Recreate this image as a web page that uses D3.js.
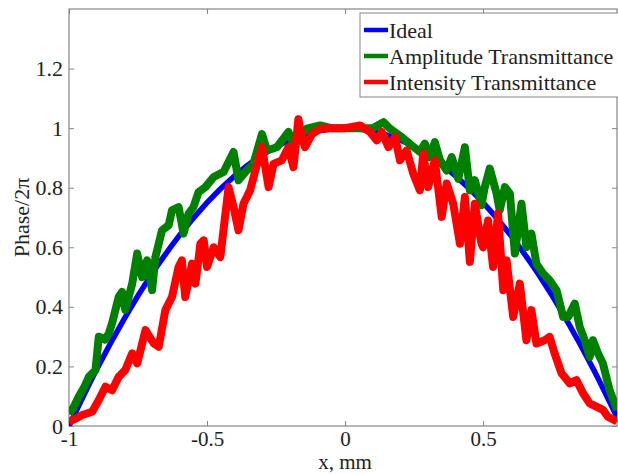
<!DOCTYPE html>
<meta charset="utf-8">
<head>
  <title>phase profile</title>
</head>
<style>
body { margin: 0; background: #fff; }
text { font-family: "Liberation Serif", "Times New Roman", serif; fill: #222; }
</style>
<body>
<svg id="chart" width="618" height="474"></svg>
<script src="https://cdnjs.cloudflare.com/ajax/libs/d3/7.8.5/d3.min.js"></script>
<script>

// values
var idealX = [-1, -0.9, -0.8, -0.7, -0.6, -0.5, -0.4, -0.3, -0.2, -0.1, 0, 0.1, 0.2, 0.3, 0.4, 0.5, 0.6, 0.7, 0.8, 0.9, 0.985];
var idealY = [0, 0.19, 0.36, 0.51, 0.64, 0.75, 0.84, 0.91, 0.96, 0.99, 1.0, 0.99, 0.96, 0.91, 0.84, 0.75, 0.64, 0.51, 0.36, 0.19, 0.03];

var ampX = [-1, -0.985, -0.965, -0.945, -0.928, -0.904, -0.892, -0.87, -0.856, -0.844, -0.82, -0.808, -0.796, -0.771, -0.753, -0.735, -0.717, -0.699, -0.687, -0.663, -0.639, -0.627, -0.603, -0.585, -0.567, -0.549, -0.531, -0.506, -0.476, -0.44, -0.404, -0.386, -0.356, -0.332, -0.301, -0.283, -0.247, -0.205, -0.187, -0.139, -0.09, -0.05, 0, 0.05, 0.1, 0.139, 0.163, 0.205, 0.241, 0.271, 0.289, 0.307, 0.325, 0.344, 0.368, 0.386, 0.41, 0.434, 0.452, 0.47, 0.494, 0.506, 0.524, 0.549, 0.56, 0.579, 0.597, 0.615, 0.639, 0.657, 0.675, 0.693, 0.717, 0.741, 0.766, 0.79, 0.808, 0.832, 0.85, 0.868, 0.886, 0.898, 0.916, 0.934, 0.958, 0.976, 0.985];
var ampY = [0.04, 0.06, 0.098, 0.13, 0.165, 0.188, 0.3, 0.29, 0.31, 0.345, 0.433, 0.45, 0.39, 0.478, 0.579, 0.5, 0.556, 0.456, 0.567, 0.657, 0.674, 0.724, 0.735, 0.646, 0.713, 0.735, 0.785, 0.802, 0.836, 0.853, 0.92, 0.825, 0.858, 0.88, 0.98, 0.925, 0.936, 0.987, 0.948, 0.998, 1.009, 1.0, 1.0, 1.0, 1.0, 1.02, 0.998, 0.97, 0.942, 0.92, 0.948, 0.903, 0.953, 0.892, 0.858, 0.903, 0.83, 0.936, 0.791, 0.825, 0.741, 0.802, 0.864, 0.78, 0.724, 0.802, 0.78, 0.579, 0.746, 0.6, 0.646, 0.545, 0.512, 0.489, 0.456, 0.366, 0.366, 0.411, 0.333, 0.288, 0.232, 0.288, 0.244, 0.21, 0.121, 0.076, 0.054];

var intX = [-1, -0.975, -0.952, -0.916, -0.892, -0.868, -0.844, -0.82, -0.796, -0.771, -0.753, -0.723, -0.693, -0.675, -0.651, -0.627, -0.603, -0.591, -0.579, -0.554, -0.542, -0.524, -0.512, -0.5, -0.476, -0.452, -0.422, -0.404, -0.386, -0.368, -0.344, -0.325, -0.301, -0.277, -0.259, -0.229, -0.205, -0.187, -0.169, -0.157, -0.145, -0.12, -0.09, -0.05, 0, 0.054, 0.09, 0.115, 0.133, 0.157, 0.181, 0.199, 0.223, 0.247, 0.271, 0.283, 0.301, 0.325, 0.35, 0.368, 0.392, 0.416, 0.434, 0.452, 0.47, 0.494, 0.5, 0.518, 0.536, 0.554, 0.573, 0.585, 0.609, 0.633, 0.657, 0.675, 0.693, 0.723, 0.741, 0.759, 0.784, 0.814, 0.838, 0.862, 0.886, 0.91, 0.934, 0.952, 0.985];
var intY = [0.015, 0.025, 0.037, 0.048, 0.087, 0.132, 0.12, 0.165, 0.188, 0.244, 0.21, 0.322, 0.277, 0.266, 0.389, 0.433, 0.534, 0.556, 0.433, 0.545, 0.478, 0.612, 0.623, 0.534, 0.6, 0.567, 0.802, 0.735, 0.657, 0.746, 0.791, 0.858, 0.936, 0.802, 0.88, 0.892, 0.936, 0.869, 1.03, 0.97, 0.936, 0.98, 0.998, 1.0, 1.0, 1.009, 0.987, 0.959, 0.987, 0.936, 0.97, 0.892, 0.925, 0.847, 0.791, 0.914, 0.802, 0.892, 0.702, 0.814, 0.746, 0.612, 0.769, 0.551, 0.746, 0.612, 0.6, 0.69, 0.534, 0.713, 0.456, 0.556, 0.366, 0.478, 0.288, 0.389, 0.277, 0.288, 0.299, 0.244, 0.177, 0.143, 0.154, 0.11, 0.076, 0.065, 0.054, 0.031, 0.015];

var xTicks = [-1, -0.5, 0, 0.5];
var xTickLabels = ["-1", "-0.5", "0", "0.5"];
var yTicks = [0, 0.2, 0.4, 0.6, 0.8, 1, 1.2];
var yTickLabels = ["0", "0.2", "0.4", "0.6", "0.8", "1", "1.2"];
var seriesNames = ["Ideal", "Amplitude Transmittance", "Intensity Transmittance"];
var seriesColors = ["#0000ff", "#008000", "#ff0000"];

var plotL = 69, plotR = 617, plotT = 9, plotB = 426;
var axisColor = "#858585";

var svg = d3.select("#chart");

var x = d3.scaleLinear().domain([-1, 0.985]).range([plotL, plotR]);
var y = d3.scaleLinear().domain([0, 1.4]).range([plotB, plotT]);

svg.append("clipPath").attr("id", "clip")
  .append("rect").attr("x", plotL).attr("y", plotT)
  .attr("width", plotR - plotL).attr("height", plotB - plotT);

// plot frame
svg.append("rect")
  .attr("x", plotL).attr("y", plotT)
  .attr("width", plotR - plotL).attr("height", plotB - plotT)
  .style("fill", "none").style("stroke", axisColor).style("stroke-width", 1.2);

// axes, ticks pointing inwards like matlab
var xAxis = d3.axisBottom(x).tickValues(xTicks).tickSizeInner(-5).tickSizeOuter(0)
  .tickPadding(5).tickFormat(function(d, i) { return xTickLabels[i]; });
var gx = svg.append("g").attr("transform", "translate(0," + plotB + ")").call(xAxis);

var yAxis = d3.axisLeft(y).tickValues(yTicks).tickSizeInner(-5).tickSizeOuter(0)
  .tickPadding(6).tickFormat(function(d, i) { return yTickLabels[i]; });
var gy = svg.append("g").attr("transform", "translate(" + plotL + ",0)").call(yAxis);

var gxTop = svg.append("g").attr("transform", "translate(0," + plotT + ")")
  .call(d3.axisTop(x).tickValues(xTicks).tickSizeInner(-5).tickSizeOuter(0).tickFormat(""));
var gyRight = svg.append("g").attr("transform", "translate(" + plotR + ",0)")
  .call(d3.axisRight(y).tickValues(yTicks).tickSizeInner(-5).tickSizeOuter(0).tickFormat(""));

[gx, gy, gxTop, gyRight].forEach(function(g) {
  g.select(".domain").remove();
  g.selectAll(".tick line").style("stroke", axisColor);
  g.selectAll(".tick text").style("font-family", '"Liberation Serif", serif')
    .style("font-size", "22px").style("fill", "#222");
});
gx.selectAll(".tick text").style("font-size", "21px");

svg.append("text")
  .attr("x", x(0)).attr("y", 469)
  .attr("text-anchor", "middle")
  .style("font-size", "21px")
  .text("x, mm");

svg.append("text")
  .attr("transform", "translate(29," + ((plotT + plotB) / 2) + ") rotate(-90)")
  .attr("text-anchor", "middle")
  .style("font-size", "22px")
  .text("Phase/2\u03c0");

// curves
var line = d3.line()
  .x(function(d) { return x(d[0]); })
  .y(function(d) { return y(d[1]); });

var series = [
  { xs: idealX, ys: idealY, curve: d3.curveMonotoneX, w: 5.5 },
  { xs: ampX, ys: ampY, curve: d3.curveLinear, w: 8 },
  { xs: intX, ys: intY, curve: d3.curveLinear, w: 8 }
];

var plot = svg.append("g").attr("clip-path", "url(#clip)");
series.forEach(function(s, i) {
  var pts = s.xs.map(function(v, j) { return [v, s.ys[j]]; });
  plot.append("path")
    .datum(pts)
    .attr("d", line.curve(s.curve))
    .style("fill", "none")
    .style("stroke", seriesColors[i])
    .style("stroke-width", s.w)
    .style("stroke-linejoin", "round");
});

// legend box, runs off the right edge
var legend = svg.append("g");
legend.append("rect")
  .attr("x", 360).attr("y", 13)
  .attr("width", 300).attr("height", 84)
  .style("fill", "#fff").style("stroke", axisColor).style("stroke-width", 1);

var legendY = d3.scalePoint().domain(seriesNames).range([30, 82]);
seriesNames.forEach(function(name, i) {
  var yy = legendY(name);
  legend.append("line")
    .attr("x1", 364).attr("x2", 388)
    .attr("y1", yy).attr("y2", yy)
    .style("stroke", seriesColors[i]).style("stroke-width", 4.5);
  legend.append("text")
    .attr("x", 389).attr("y", yy)
    .attr("dy", "0.35em")
    .style("font-size", "22px")
    .text(name);
});

</script>
</body>
